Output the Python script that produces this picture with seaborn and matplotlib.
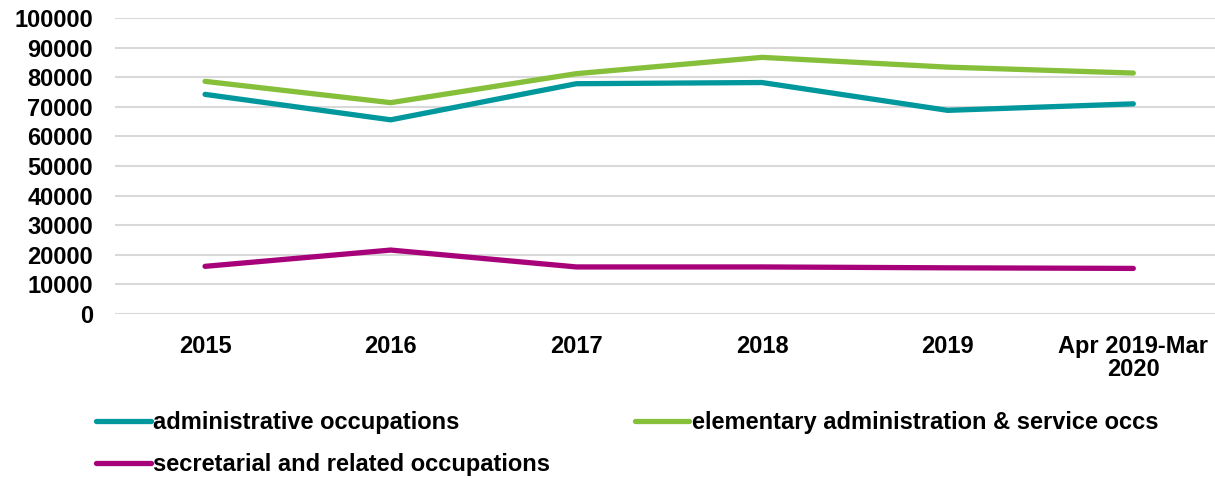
import pandas as pd
import seaborn as sns
import matplotlib.pyplot as plt

# data
periods = ["2015", "2016", "2017", "2018", "2019", "Apr 2019-Mar\n2020"]
admin = [74200, 65600, 77800, 78200, 68800, 71000]
elementary = [78600, 71400, 81200, 86700, 83400, 81400]
secretarial = [16100, 21600, 15900, 15900, 15600, 15400]

series_names = [
    "administrative occupations",
    "elementary administration & service occs",
    "secretarial and related occupations",
]
colors = ["#00979D", "#86BF3A", "#A8027A"]

df = pd.concat(
    [
        pd.DataFrame({"period": periods, "value": vals, "series": name})
        for name, vals in zip(series_names, [admin, elementary, secretarial])
    ]
)
df["x"] = df["period"].map({p: i for i, p in enumerate(periods)})

sns.set_style("white")
plt.rcParams["font.family"] = ["Liberation Sans", "DejaVu Sans"]
plt.rcParams["font.weight"] = "bold"
plt.rcParams["text.color"] = "black"
plt.rcParams["xtick.color"] = "black"
plt.rcParams["ytick.color"] = "black"

FS = 17

fig = plt.figure(figsize=(12.15, 4.79), dpi=100)
ax = fig.add_axes([115 / 1215, 1 - 314 / 479, 1 - 115 / 1215, (314 - 18) / 479])

sns.lineplot(
    data=df,
    x="x",
    y="value",
    hue="series",
    hue_order=series_names,
    palette=colors,
    linewidth=3.8,
    solid_capstyle="round",
    legend=False,
    ax=ax,
)

ax.set_xlim(-0.485, 5.44)
ax.set_ylim(0, 100000)
ax.set_yticks(range(0, 100001, 10000))
ax.set_xticks(range(len(periods)))
ax.set_xticklabels(periods, fontsize=FS, fontweight="bold", linespacing=1.0)
ax.tick_params(axis="y", labelsize=FS, length=0, pad=16)
ax.tick_params(axis="x", length=0, pad=15)
for lab in ax.get_yticklabels():
    lab.set_fontweight("bold")
ax.set_xlabel("")
ax.set_ylabel("")
ax.grid(axis="y", color="#D9D9D9", linewidth=1.5)
ax.set_axisbelow(True)
for s in ax.spines.values():
    s.set_visible(False)

# legend: admin + secretarial in first column, elementary in second
order = [0, 2, 1]
handles = [
    plt.Line2D([], [], color=colors[i], linewidth=3.8, solid_capstyle="round")
    for i in order
]
fig.legend(
    handles,
    [series_names[i] for i in order],
    ncol=2,
    loc="upper left",
    bbox_to_anchor=(75 / 1215, 1 - 390 / 479),
    frameon=False,
    prop={"size": FS, "weight": "bold"},
    handlelength=2.3,
    handletextpad=0.1,
    labelspacing=0.8,
    columnspacing=3.6,
)

fig.savefig("out.png", dpi=100)
